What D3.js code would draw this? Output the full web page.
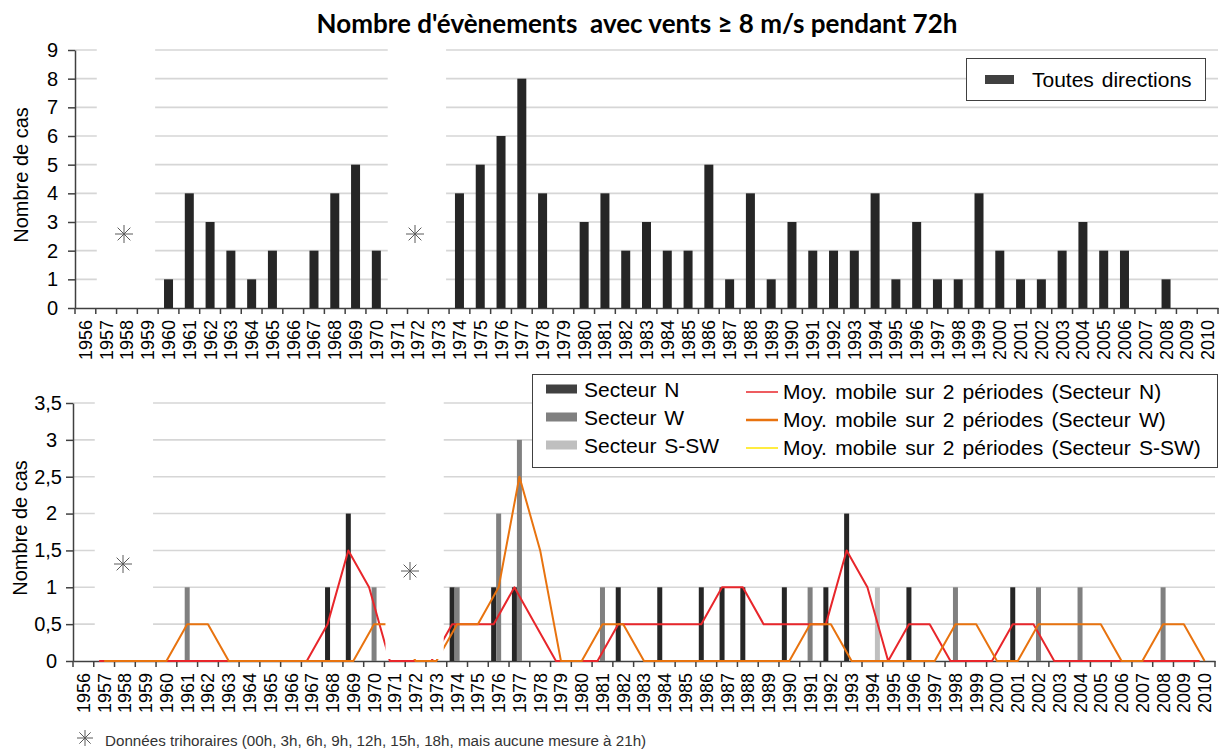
<!DOCTYPE html>
<html>
<head>
<meta charset="utf-8">
<script src="https://cdn.jsdelivr.net/npm/d3@7"></script>
<style>
  body { margin: 0; background: #fff; }
  svg { display: block; }
  text { font-family: "Liberation Sans", Arial, sans-serif; fill: #000; }
</style>
</head>
<body>
<svg id="chart" width="1219" height="749"></svg>
<script>
// ---- data -------------------------------------------------------------
const years = ["1956","1957","1958","1959","1960","1961","1962","1963","1964","1965",
  "1966","1967","1968","1969","1970","1971","1972","1973","1974","1975",
  "1976","1977","1978","1979","1980","1981","1982","1983","1984","1985",
  "1986","1987","1988","1989","1990","1991","1992","1993","1994","1995",
  "1996","1997","1998","1999","2000","2001","2002","2003","2004","2005",
  "2006","2007","2008","2009","2010"];

// events, all directions
const toutesDirections = [0,0,0,0,1,4,3,2,1,2, 0,2,4,5,2,0,0,0,4,5,
  6,8,4,0,3,4,2,3,2,2, 5,1,4,1,3,2,2,2,4,1, 3,1,1,4,2,1,1,2,3,2, 2,0,1,0,0];

// events by sector
const secteurN   = [0,0,0,0,0,0,0,0,0,0, 0,0,1,2,0,0,0,0,1,0,
  1,1,0,0,0,0,1,0,1,0, 1,1,1,0,1,0,1,2,0,0, 1,0,0,0,0,1,0,0,0,0, 0,0,0,0,0];
const secteurW   = [0,0,0,0,0,1,0,0,0,0, 0,0,0,0,1,0,0,0,1,0,
  2,3,0,0,0,1,0,0,0,0, 0,0,0,0,0,1,0,0,0,0, 0,0,1,0,0,0,1,0,1,0, 0,0,1,0,0];
const secteurSSW = [0,0,0,0,0,0,0,0,0,0, 0,0,0,0,0,0,0,0,0,0,
  0,0,0,0,0,0,0,0,0,0, 0,0,0,0,0,0,0,0,1,0, 0,0,0,0,0,0,0,0,0,0, 0,0,0,0,0];

const topTicks = [0,1,2,3,4,5,6,7,8,9];
const bottomTicks = [0,0.5,1,1.5,2,2.5,3,3.5];
const bottomTickLabels = ["0","0,5","1","1,5","2","2,5","3","3,5"];

// years with three-hourly data only (no 21h reading)
const trihoraireSpans = [["1957","1959"],["1971","1973"]];

const titleText = "Nombre d'évènements  avec vents ≥ 8 m/s pendant 72h";
const noteText = "Données trihoraires (00h, 3h, 6h, 9h, 12h, 15h, 18h, mais aucune mesure à 21h)";

// ---- helpers ----------------------------------------------------------
const svg = d3.select("#chart");
const AXIS = "#404040", GRID = "#d6d6d6";

function movingAverage2(arr) {
  return arr.map((v, i) => i === 0 ? null : (arr[i - 1] + v) / 2);
}

function asterisk(g, cx, cy, r) {
  [0, 45, 90, 135].forEach(a => {
    const t = a * Math.PI / 180;
    g.append("line")
      .attr("x1", cx - r * Math.cos(t)).attr("y1", cy - r * Math.sin(t))
      .attr("x2", cx + r * Math.cos(t)).attr("y2", cy + r * Math.sin(t))
      .attr("stroke", "#5a5a5a").attr("stroke-width", 1);
  });
}

function categoryAxis(g, x, y0) {
  const ax = g.append("g").attr("transform", `translate(0,${y0})`)
    .call(d3.axisBottom(x).tickSize(0).tickSizeOuter(0));
  ax.select(".domain").attr("stroke", AXIS).attr("stroke-width", 1.5);
  ax.selectAll(".tick text")
    .attr("transform", "rotate(-90)")
    .attr("text-anchor", "end")
    .attr("x", -12).attr("y", 0).attr("dy", "0.36em")
    .attr("font-size", 18)
    .attr("fill", "#000");
  // tick marks sit on category boundaries
  const bounds = x.domain().map(d => x(d)).concat([x.range()[1]]);
  g.append("g").selectAll("line").data(bounds).join("line")
    .attr("x1", d => d).attr("x2", d => d)
    .attr("y1", y0).attr("y2", y0 + 6)
    .attr("stroke", AXIS).attr("stroke-width", 1.5);
}

function valueAxis(g, y, x0, ticks, labels, padFn) {
  const ax = g.append("g").attr("transform", `translate(${x0},0)`)
    .call(d3.axisLeft(y).tickValues(ticks).tickSize(7).tickSizeOuter(0)
      .tickFormat((d, i) => labels[i]));
  ax.select(".domain").attr("stroke", AXIS).attr("stroke-width", 1.5);
  ax.selectAll(".tick line").attr("stroke", AXIS).attr("stroke-width", 1.5);
  ax.selectAll(".tick text")
    .attr("x", d => -padFn(d))
    .attr("font-size", 20)
    .attr("fill", "#000");
}

function gridlines(g, y, ticks, x0, x1) {
  g.append("g").selectAll("line").data(ticks.filter(t => t > 0)).join("line")
    .attr("x1", x0).attr("x2", x1)
    .attr("y1", d => y(d)).attr("y2", d => y(d))
    .attr("stroke", GRID).attr("stroke-width", 1.6);
}

function maskSpans(g, x, yTop, yBottom) {
  trihoraireSpans.forEach(([a, b]) => {
    g.append("rect")
      .attr("x", x(a) + 1).attr("y", yTop)
      .attr("width", x(b) + x.bandwidth() - 3 - (x(a) + 1))
      .attr("height", yBottom - yTop)
      .attr("fill", "#fff");
  });
}

// ---- title ------------------------------------------------------------
const title = svg.append("text")
  .attr("x", 637).attr("y", 33)
  .attr("text-anchor", "middle")
  .style("font-family", "Lato, 'Open Sans', sans-serif")
  .style("font-weight", "bold")
  .style("font-size", "23px")
  .style("white-space", "pre")
  .text(titleText);
{
  const len = title.node().getComputedTextLength();
  title.style("font-size", (23 * 641 / len) + "px");
}

// ---- top panel: all directions -----------------------------------------
const gTop = svg.append("g");
const xTop = d3.scaleBand().domain(years).range([75, 1218]);
const yTop = d3.scaleLinear().domain([0, 9]).range([308, 50]);

gridlines(gTop, yTop, topTicks, 75, 1218);
valueAxis(gTop, yTop, 75, topTicks, topTicks.map(String), () => 17);
categoryAxis(gTop, xTop, 308);

gTop.append("g").selectAll("rect").data(toutesDirections).join("rect")
  .attr("x", (d, i) => xTop(years[i]) + xTop.bandwidth() / 2 - 4.5)
  .attr("width", 9)
  .attr("y", d => yTop(d))
  .attr("height", d => yTop(0) - yTop(d))
  .attr("fill", "#262626");

maskSpans(gTop, xTop, 45, 305);
asterisk(gTop, 124, 234, 9);
asterisk(gTop, 415, 234, 9);

gTop.append("text")
  .attr("transform", "translate(28,175) rotate(-90)")
  .attr("text-anchor", "middle")
  .attr("font-size", 20)
  .text("Nombre de cas");

// legend
const lgTop = gTop.append("g");
lgTop.append("rect").attr("x", 966.5).attr("y", 58.5).attr("width", 239).attr("height", 42)
  .attr("fill", "#fff").attr("stroke", "#404040").attr("stroke-width", 1);
lgTop.append("rect").attr("x", 985).attr("y", 75).attr("width", 29).attr("height", 9).attr("fill", "#404040");
lgTop.append("text").attr("x", 1032).attr("y", 87).attr("font-size", 21)
  .style("word-spacing", "2px").text("Toutes directions");

// ---- bottom panel: by sector -------------------------------------------
const gBot = svg.append("g");
const xBot = d3.scaleBand().domain(years).range([73, 1215]);
const yBot = d3.scaleLinear().domain([0, 3.5]).range([661, 403]);

gridlines(gBot, yBot, bottomTicks, 73, 1215);
valueAxis(gBot, yBot, 73, bottomTicks, bottomTickLabels, d => Number.isInteger(d) ? 16 : 11);
categoryAxis(gBot, xBot, 661);

const sectors = [
  { name: "Secteur N",    values: secteurN,   bar: "#262626", swatch: "#404040", line: "#e8262b", offset: -5 },
  { name: "Secteur W",    values: secteurW,   bar: "#808080", swatch: "#808080", line: "#e8730f", offset: 0 },
  { name: "Secteur S-SW", values: secteurSSW, bar: "#bfbfbf", swatch: "#bfbfbf", line: "#ffe600", offset: 5 }
];
const cx = (i, off) => xBot(years[i]) + xBot.bandwidth() / 2 + off;

sectors.forEach(s => {
  gBot.append("g").selectAll("rect").data(s.values).join("rect")
    .attr("x", (d, i) => cx(i, s.offset) - 2.5)
    .attr("width", 5)
    .attr("y", d => yBot(d))
    .attr("height", d => yBot(0) - yBot(d))
    .attr("fill", s.bar);
});

// 2-period moving averages for the N and W sectors
const line = d3.line().defined(d => d.v !== null).x(d => d.x).y(d => yBot(d.v));
sectors.slice(0, 2).forEach(s => {
  const pts = movingAverage2(s.values).map((v, i) => ({ x: cx(i, s.offset), v }));
  gBot.append("path").datum(pts)
    .attr("d", line)
    .attr("fill", "none")
    .attr("stroke", s.line)
    .attr("stroke-width", 2)
    .attr("stroke-linejoin", "round");
});

maskSpans(gBot, xBot, 398, 659);
asterisk(gBot, 123, 564, 9);
asterisk(gBot, 410, 571, 9);

gBot.append("text")
  .attr("transform", "translate(27,528) rotate(-90)")
  .attr("text-anchor", "middle")
  .attr("font-size", 20)
  .text("Nombre de cas");

// legend
const lgBot = gBot.append("g");
lgBot.append("rect").attr("x", 532.5).attr("y", 374.5).attr("width", 685).attr("height", 93)
  .attr("fill", "#fff").attr("stroke", "#404040").attr("stroke-width", 1);
const rowY = [389, 417, 445];
sectors.forEach((s, i) => {
  lgBot.append("rect").attr("x", 546).attr("y", rowY[i] - 4.5).attr("width", 31).attr("height", 9).attr("fill", s.swatch);
  lgBot.append("text").attr("x", 584).attr("y", rowY[i] + 7.5).attr("font-size", 21)
    .style("word-spacing", "2px").text(s.name);
  lgBot.append("line").attr("x1", 746).attr("x2", 778).attr("y1", rowY[i] + 3).attr("y2", rowY[i] + 3)
    .attr("stroke", s.line).attr("stroke-width", s.offset === 0 ? 2.5 : 1.5);
  lgBot.append("text").attr("x", 783).attr("y", rowY[i] + 10).attr("font-size", 21)
    .style("word-spacing", "2.4px")
    .text(`Moy. mobile sur 2 périodes (${s.name})`);
});

// ---- footnote -----------------------------------------------------------
asterisk(svg, 85, 738, 8);
svg.append("text")
  .attr("x", 105).attr("y", 746)
  .attr("font-size", 15.2)
  .attr("fill", "#262626")
  .style("fill", "#333")
  .text(noteText);
</script>
</body>
</html>
